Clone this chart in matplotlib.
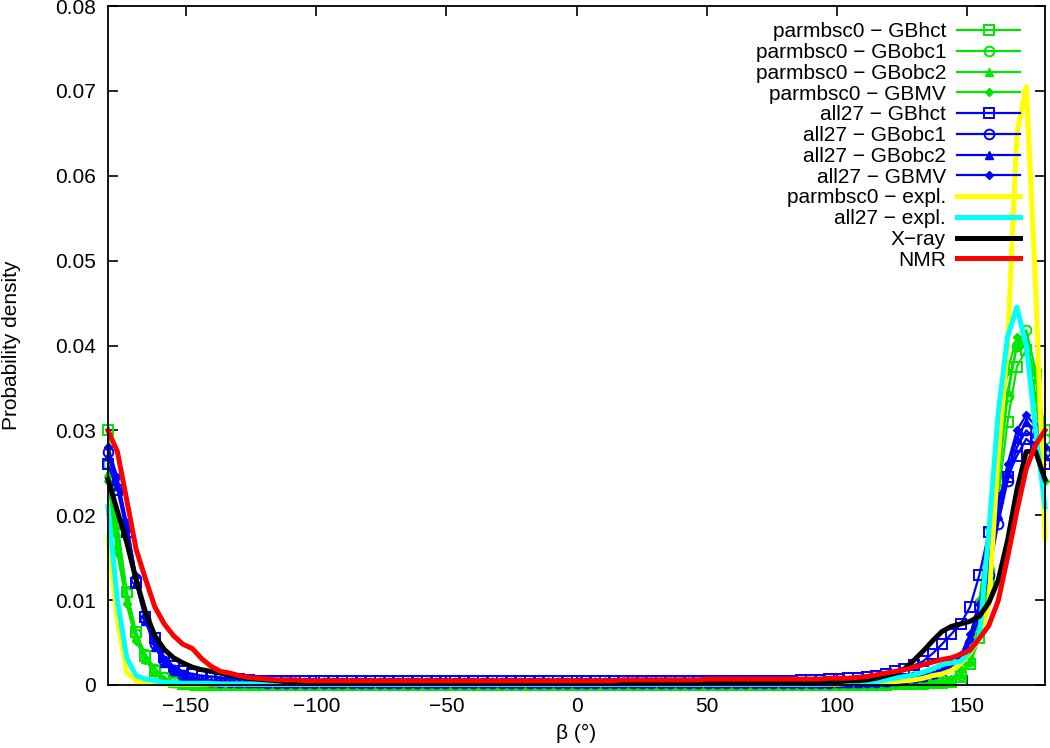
import matplotlib
matplotlib.use('Agg')
import matplotlib.pyplot as plt
import numpy as np
from matplotlib.ticker import FuncFormatter

plt.rcParams['font.family'] = ['Liberation Sans', 'DejaVu Sans']

# bin centres (degrees), 3.6 degree histogram bins
beta = np.arange(101) * 3.6 - 180.0
UNIT = 1e-4  # all densities below are in units of 1e-4

# ---- parmbsc0 / implicit solvent (green) ----
bsc0_hct = [300, 190, 110, 62, 34, 17, 8, 3, 1, 1, 0, 0, 0, 0, 0, 0, 0, 0, 0, 0,
            0, 0, 0, 0, 0, 0, 0, 0, 0, 0, 0, 0, 0, 0, 0, 0, 0, 0, 0, 0,
            0, 0, 0, 0, 0, 0, 0, 0, 0, 0, 0, 0, 0, 0, 0, 0, 0, 0, 0, 0,
            0, 0, 0, 0, 0, 0, 0, 0, 0, 0, 0, 0, 0, 0, 0, 0, 0, 0, 0, 0,
            0, 0, 0, 0, 1, 1, 1, 1, 2, 2, 4, 10, 25, 55, 120, 220, 310, 375, 395, 365, 300]
bsc0_obc1 = [260, 180, 108, 60, 36, 19, 9, 3, 1, 0, 0, 0, 0, 0, 0, 0, 0, 0, 0, 0,
             0, 0, 0, 0, 0, 0, 0, 0, 0, 0, 0, 0, 0, 0, 0, 0, 0, 0, 0, 0,
             0, 0, 0, 0, 0, 0, 0, 0, 0, 0, 0, 0, 0, 0, 0, 0, 0, 0, 0, 0,
             0, 0, 0, 0, 0, 0, 0, 0, 0, 0, 0, 0, 0, 0, 0, 0, 0, 0, 0, 0,
             0, 0, 0, 0, 1, 1, 1, 1, 2, 3, 5, 12, 28, 65, 135, 240, 340, 400, 418, 370, 290]
bsc0_obc2 = [250, 165, 100, 56, 31, 16, 7, 2, 1, 0, 0, 0, 0, 0, 0, 0, 0, 0, 0, 0,
             0, 0, 0, 0, 0, 0, 0, 0, 0, 0, 0, 0, 0, 0, 0, 0, 0, 0, 0, 0,
             0, 0, 0, 0, 0, 0, 0, 0, 0, 0, 0, 0, 0, 0, 0, 0, 0, 0, 0, 0,
             0, 0, 0, 0, 0, 0, 0, 0, 0, 0, 0, 0, 0, 0, 0, 0, 0, 0, 0, 0,
             0, 0, 0, 0, 1, 1, 1, 2, 2, 3, 5, 13, 30, 70, 145, 250, 345, 400, 405, 360, 280]
bsc0_mv = [240, 155, 95, 52, 29, 14, 6, 2, 1, 0, 0, 0, 0, 0, 0, 0, 0, 0, 0, 0,
           0, 0, 0, 0, 0, 0, 0, 0, 0, 0, 0, 0, 0, 0, 0, 0, 0, 0, 0, 0,
           0, 0, 0, 0, 0, 0, 0, 0, 0, 0, 0, 0, 0, 0, 0, 0, 0, 0, 0, 0,
           0, 0, 0, 0, 0, 0, 0, 0, 0, 0, 0, 0, 0, 0, 0, 0, 0, 0, 0, 0,
           0, 0, 0, 1, 1, 1, 1, 2, 3, 4, 7, 18, 45, 100, 185, 290, 370, 410, 400, 340, 240]

# ---- all27 / implicit solvent (blue) ----
all27_hct = [260, 230, 180, 120, 80, 55, 33, 22, 16, 13, 11, 10, 9, 8, 7, 6, 5, 5, 5, 5,
             5, 5, 5, 5, 5, 5, 5, 5, 5, 5, 5, 5, 5, 5, 5, 5, 5, 5, 5, 5,
             5, 5, 5, 5, 5, 5, 5, 5, 5, 5, 5, 5, 5, 5, 5, 5, 5, 5, 5, 5,
             5, 5, 5, 5, 5, 5, 5, 5, 5, 5, 5, 5, 5, 5, 6, 6, 6, 7, 7, 8,
             8, 9, 11, 13, 16, 19, 23, 28, 37, 48, 60, 72, 92, 130, 180, 220, 245, 270, 290, 280, 260]
all27_obc1 = [275, 240, 190, 125, 78, 48, 28, 18, 12, 8, 6, 5, 4, 3, 3, 3, 3, 2, 2, 2,
              2, 2, 2, 2, 2, 2, 2, 2, 2, 2, 2, 2, 2, 2, 2, 2, 2, 2, 2, 2,
              2, 2, 2, 2, 2, 2, 2, 2, 2, 2, 2, 2, 2, 2, 2, 2, 2, 2, 2, 2,
              2, 2, 2, 2, 2, 2, 2, 2, 2, 2, 2, 2, 2, 2, 2, 2, 2, 2, 3, 3,
              3, 3, 4, 5, 6, 7, 9, 11, 14, 18, 24, 33, 50, 80, 130, 190, 240, 280, 300, 290, 275]
all27_obc2 = [270, 235, 185, 120, 75, 45, 26, 16, 10, 7, 5, 4, 3, 3, 2, 2, 2, 2, 2, 2,
              2, 2, 2, 2, 2, 2, 2, 2, 2, 2, 2, 2, 2, 2, 2, 2, 2, 2, 2, 2,
              2, 2, 2, 2, 2, 2, 2, 2, 2, 2, 2, 2, 2, 2, 2, 2, 2, 2, 2, 2,
              2, 2, 2, 2, 2, 2, 2, 2, 2, 2, 2, 2, 2, 2, 2, 2, 2, 2, 2, 2,
              2, 3, 3, 4, 5, 6, 8, 10, 13, 17, 22, 35, 55, 90, 140, 200, 250, 290, 310, 300, 270]
all27_mv = [280, 245, 190, 128, 80, 50, 30, 19, 12, 8, 6, 4, 3, 3, 2, 2, 2, 2, 2, 2,
            2, 2, 2, 2, 2, 2, 2, 2, 2, 2, 2, 2, 2, 2, 2, 2, 2, 2, 2, 2,
            2, 2, 2, 2, 2, 2, 2, 2, 2, 2, 2, 2, 2, 2, 2, 2, 2, 2, 2, 2,
            2, 2, 2, 2, 2, 2, 2, 2, 2, 2, 2, 2, 2, 2, 2, 2, 2, 2, 2, 2,
            2, 2, 3, 4, 5, 6, 7, 9, 12, 16, 22, 35, 60, 95, 150, 210, 260, 300, 318, 305, 280]

# ---- explicit solvent, X-ray, NMR ----
bsc0_expl = [174, 77, 15, 5, 3, 2, 1, 1, 1, 1, 1, 1, 1, 1, 1, 1, 1, 1, 1, 1,
             1, 1, 1, 1, 1, 1, 1, 1, 1, 1, 1, 1, 1, 1, 1, 1, 1, 1, 1, 1,
             1, 1, 1, 1, 1, 1, 1, 1, 1, 1, 1, 1, 1, 1, 1, 1, 1, 1, 1, 1,
             1, 1, 1, 1, 1, 1, 1, 1, 1, 1, 1, 1, 1, 1, 1, 1, 1, 1, 1, 2,
             2, 2, 3, 3, 4, 5, 6, 8, 11, 13, 17, 25, 38, 55, 95, 270, 400, 650, 705, 470, 174]
all27_expl = [210, 100, 32, 11, 7, 5, 3, 3, 2, 2, 2, 2, 1, 1, 1, 1, 1, 1, 1, 1,
              1, 1, 1, 1, 1, 1, 1, 1, 1, 1, 1, 1, 1, 1, 1, 1, 1, 1, 1, 1,
              1, 1, 1, 1, 1, 1, 1, 1, 1, 1, 1, 1, 1, 1, 1, 1, 1, 1, 1, 1,
              1, 1, 1, 1, 1, 1, 1, 1, 1, 1, 1, 1, 1, 1, 1, 1, 1, 2, 2, 2,
              2, 3, 4, 6, 8, 10, 12, 15, 19, 24, 26, 28, 40, 57, 180, 320, 410, 445, 400, 300, 210]
xray = [242, 205, 168, 124, 86, 58, 42, 32, 26, 21, 18, 16, 14, 12, 10, 8, 7, 6, 5, 4,
        4, 4, 3, 3, 3, 3, 3, 3, 3, 3, 3, 3, 3, 3, 3, 3, 3, 3, 3, 3,
        3, 3, 3, 3, 3, 3, 3, 3, 3, 3, 3, 3, 3, 3, 3, 3, 3, 3, 3, 3,
        3, 3, 3, 3, 3, 3, 3, 3, 3, 3, 3, 3, 3, 3, 3, 3, 4, 4, 4, 5,
        5, 6, 8, 11, 14, 19, 29, 40, 52, 63, 69, 72, 75, 81, 97, 123, 170, 230, 275, 275, 242]
nmr = [300, 275, 218, 160, 125, 92, 72, 58, 48, 43, 31, 22, 16, 14, 11, 9, 8, 7, 6, 6,
       6, 5, 5, 5, 5, 5, 5, 5, 5, 5, 5, 5, 5, 5, 5, 5, 5, 5, 5, 5,
       5, 5, 5, 5, 5, 5, 5, 5, 5, 5, 5, 5, 5, 5, 5, 6, 6, 6, 6, 6,
       6, 6, 6, 6, 7, 7, 7, 7, 7, 7, 7, 7, 7, 7, 7, 7, 7, 8, 8, 8,
       9, 10, 12, 14, 16, 18, 21, 24, 27, 30, 32, 36, 41, 55, 70, 99, 150, 205, 255, 283, 300]

labels = ['parmbsc0 \u2212 GBhct', 'parmbsc0 \u2212 GBobc1', 'parmbsc0 \u2212 GBobc2',
          'parmbsc0 \u2212 GBMV', 'all27 \u2212 GBhct', 'all27 \u2212 GBobc1',
          'all27 \u2212 GBobc2', 'all27 \u2212 GBMV', 'parmbsc0 \u2212 expl.',
          'all27 \u2212 expl.', 'X\u2212ray', 'NMR']
series = [bsc0_hct, bsc0_obc1, bsc0_obc2, bsc0_mv,
          all27_hct, all27_obc1, all27_obc2, all27_mv,
          bsc0_expl, all27_expl, xray, nmr]

GREEN = '#00e600'
BLUE = '#0000ff'
styles = [
    dict(color=GREEN, lw=1.6, marker='s', ms=7, mfc='none', mew=1.4),
    dict(color=GREEN, lw=1.6, marker='o', ms=7, mfc='none', mew=1.4),
    dict(color=GREEN, lw=1.6, marker='^', ms=6, mew=1.0),
    dict(color=GREEN, lw=1.6, marker='D', ms=4, mew=1.0),
    dict(color=BLUE, lw=1.6, marker='s', ms=7, mfc='none', mew=1.4),
    dict(color=BLUE, lw=1.6, marker='o', ms=7, mfc='none', mew=1.4),
    dict(color=BLUE, lw=1.6, marker='^', ms=6, mew=1.0),
    dict(color=BLUE, lw=1.6, marker='D', ms=4, mew=1.0),
    dict(color='#ffff00', lw=3.6),
    dict(color='#00ffff', lw=3.6),
    dict(color='#000000', lw=3.6),
    dict(color='#ff0000', lw=3.6),
]

fig = plt.figure(figsize=(10.5, 7.48), dpi=100)
ax = fig.add_axes([108 / 1050, 1 - 685 / 748, 937 / 1050, 679 / 748])

for vals, lab, st in zip(series, labels, styles):
    ax.plot(beta, np.array(vals) * UNIT, label=lab, clip_on=False, **st)

ax.set_xlim(-180, 180)
ax.set_ylim(0, 0.08)
ax.set_xticks([-150, -100, -50, 0, 50, 100, 150])
ax.set_yticks([0, 0.01, 0.02, 0.03, 0.04, 0.05, 0.06, 0.07, 0.08])
ax.yaxis.set_major_formatter(FuncFormatter(lambda v, p: '%g' % round(v, 4)))
ax.tick_params(direction='in', top=True, right=True, length=7, width=1.2,
               labelsize=15, pad=9)
for sp in ax.spines.values():
    sp.set_linewidth(1.3)
    sp.set_zorder(10)

ax.set_xlabel('\u03b2 (\u00b0)', fontsize=15, labelpad=5)
ax.set_ylabel('Probability density', fontsize=15, labelpad=24)

leg = ax.legend(loc='upper right', bbox_to_anchor=(0.9733, 0.976), frameon=False,
                markerfirst=False, fontsize=15, handlelength=3.0, handletextpad=0.55,
                labelspacing=0.085, borderpad=0, borderaxespad=0)
leg.set_zorder(20)

fig.savefig('out.png', dpi=100)
